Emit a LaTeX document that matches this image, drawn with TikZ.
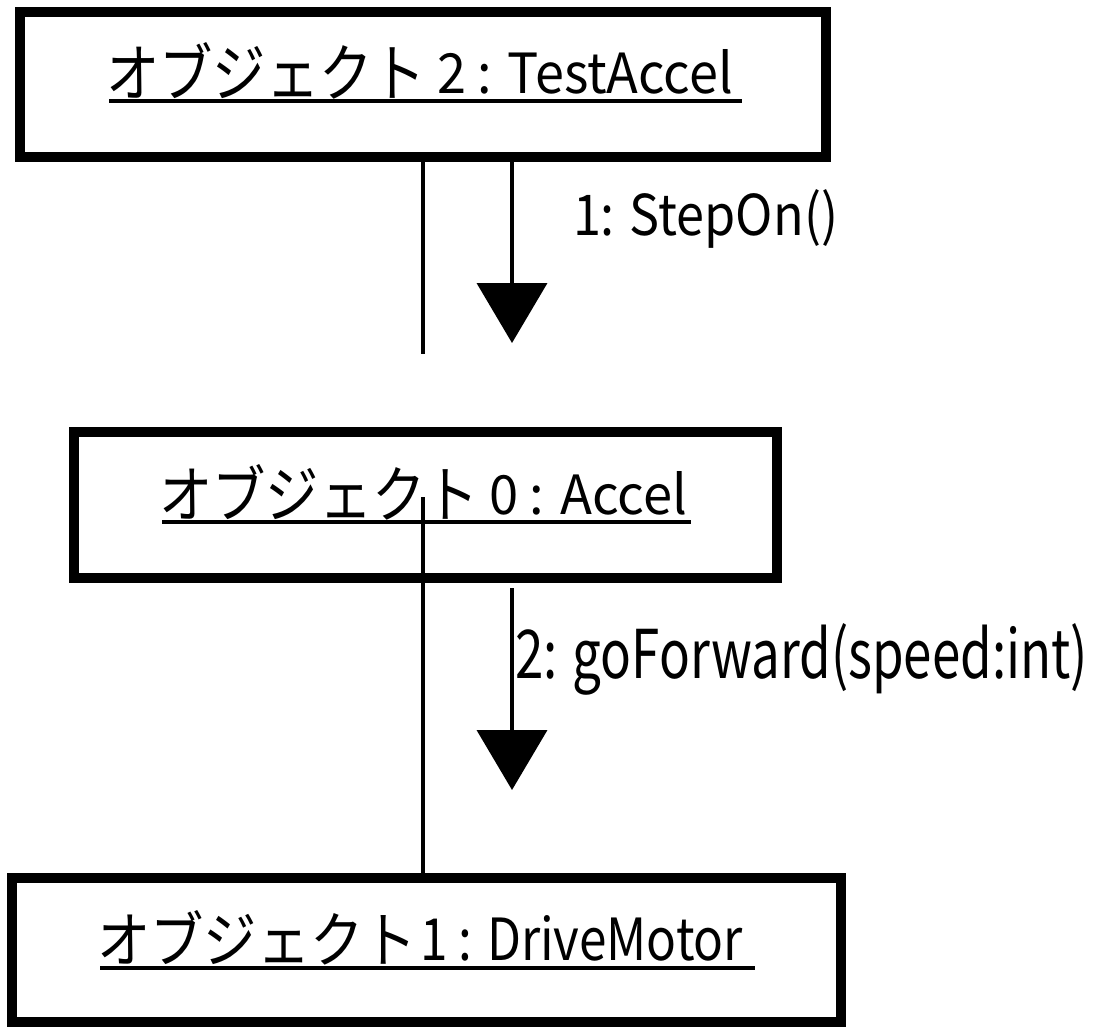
\documentclass[tikz,border=0pt]{standalone}
\usepackage{fontspec}
\usepackage{graphicx}
\newfontfamily\jpfont{Noto Sans CJK JP}
\usetikzlibrary{arrows.meta}
\begin{document}
\begin{tikzpicture}[x=0.75pt,y=-0.75pt,
  objbox/.style={draw=black,line width=7.5pt,inner sep=0pt,rectangle},
  lbl/.style={inner sep=0pt,outer sep=0pt,anchor=south west,font=\jpfont},
  conn/.style={line width=3pt},
  msg/.style={line width=3pt,-{Triangle[width=52.5pt,length=45pt]}},
  uline/.style={line width=3pt}]
\useasboundingbox (0,0) rectangle (1096,1027);
\fill[white] (0,0) rectangle (1096,1027);
% object boxes
\node[objbox,minimum width=604.5pt,minimum height=108.75pt] (b1) at (423,84.5) {};
\node[objbox,minimum width=527.25pt,minimum height=109.5pt] (b2) at (425,505) {};
\node[objbox,minimum width=621.75pt,minimum height=108pt] (b3) at (426.5,950) {};
% object names (katakana part + latin part)
\node[lbl] (k1) at (106,99) {\resizebox{240pt}{40.5pt}{オブジェクト}};
\node[lbl] (l1) at (437,94) {\resizebox{222pt}{33pt}{2 : TestAccel}};
\node[lbl] (k2) at (159,520) {\resizebox{240pt}{39.75pt}{オブジェクト}};
\node[lbl] (l2) at (489,515) {\resizebox{148.5pt}{32.25pt}{0 : Accel}};
\node[lbl] (k3) at (97,965) {\resizebox{240pt}{39pt}{オブジェクト}};
\node[lbl] (l3) at (420,961) {\resizebox{242.25pt}{33.75pt}{1 : DriveMotor}};
\draw[uline] ([xshift=2.25pt,yshift=-1.5pt]k1.south west) -- ++(633,0);
\draw[uline] ([xshift=2.25pt,yshift=-1.5pt]k2.south west) -- ++(529,0);
\draw[uline] ([xshift=2.25pt,yshift=-1.875pt]k3.south west) -- ++(655,0);
% links
\coordinate (e1) at (423,354);
\draw[conn] (b1.south -| e1) -- (e1);
\coordinate (s2) at (423,497);
\draw[conn] (s2) -- (b3.north -| s2);
% messages
\coordinate (h1) at (512,343);
\draw[msg] (b1.south -| h1) -- (h1);
\coordinate (a2) at (512,588);
\coordinate (h2) at (512,790);
\draw[msg] (a2) -- (h2);
\node[lbl] (m1) at (573,248) {\resizebox{198.75pt}{34.5pt}{1: StepOn()}};
\node[lbl] (m2) at (515,695) {\resizebox{429.75pt}{41.25pt}{2: goForward(speed:int)}};
\end{tikzpicture}
\end{document}
